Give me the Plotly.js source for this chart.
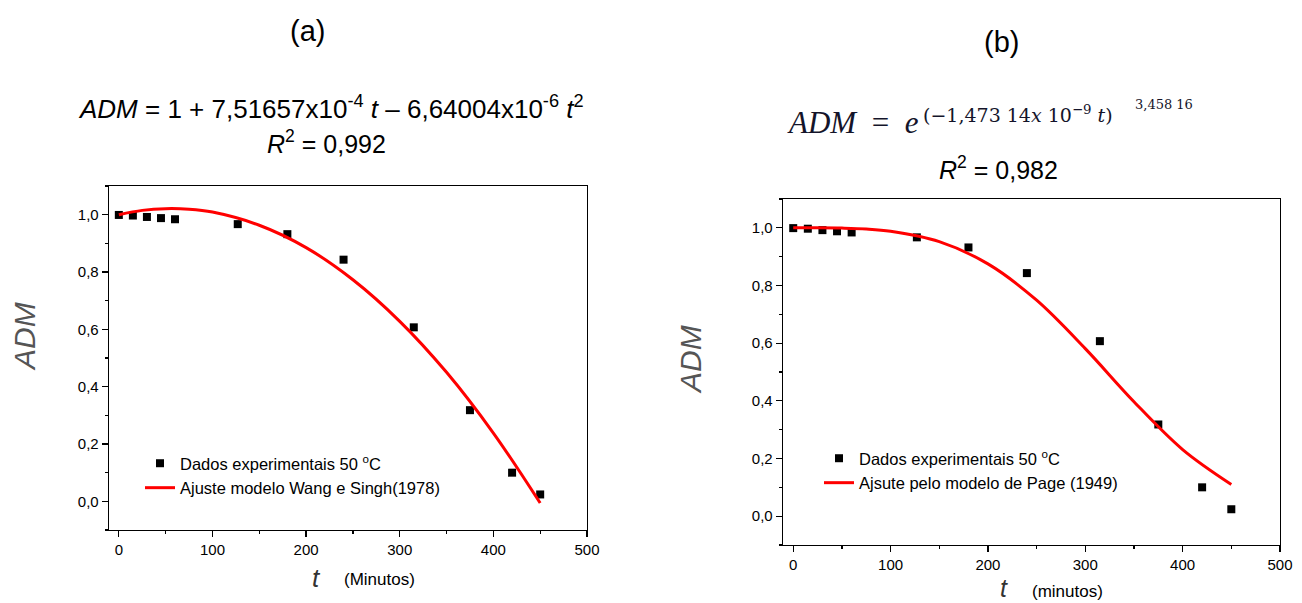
<!DOCTYPE html>
<html>
<head>
<meta charset="utf-8">
<script src="https://cdn.plot.ly/plotly-3.0.1.min.js"></script>
<style>html,body{margin:0;padding:0;background:#fff;}#chart{width:1302px;height:603px;}</style>
</head>
<body>
<div id="chart"></div>
<script>
// ---- data ----
const tData = [0, 15, 30, 45, 60, 127, 180, 240, 315, 375, 420, 450];
const admData = [0.999, 0.997, 0.992, 0.988, 0.984, 0.967, 0.932, 0.843, 0.607, 0.318, 0.100, 0.024];

const tFit = [0, 25, 50, 75, 100, 150, 200, 250, 300, 350, 400, 450];
const admFitWang = [1.000, 1.015, 1.021, 1.019, 1.009, 0.963, 0.885, 0.773, 0.628, 0.450, 0.238, -0.006];
const admFitPage = [1.000, 1.000, 0.999, 0.996, 0.988, 0.952, 0.875, 0.749, 0.581, 0.397, 0.231, 0.110];

const legendData = "Dados experimentais 50 <sup>o</sup>C";
const legendWang = "Ajuste modelo Wang e Singh(1978)";
const legendPage = "Ajsute pelo modelo de Page (1949)";

const yTickVals = [0, 0.2, 0.4, 0.6, 0.8, 1.0];
const xTickVals = [0, 100, 200, 300, 400, 500];

const W = 1302, H = 603;
const px = x => x / W;
const py = y => 1 - y / H;

const traces = [
  {x: tData, y: admData, type: 'scatter', mode: 'markers', name: legendData,
   marker: {symbol: 'square', size: 8, color: '#000'}, xaxis: 'x', yaxis: 'y', legend: 'legend'},
  {x: tFit, y: admFitWang, type: 'scatter', mode: 'lines', name: legendWang,
   line: {color: '#ff0000', width: 3, shape: 'spline', smoothing: 1}, xaxis: 'x', yaxis: 'y', legend: 'legend'},
  {x: tData, y: admData, type: 'scatter', mode: 'markers', name: legendData,
   marker: {symbol: 'square', size: 8, color: '#000'}, xaxis: 'x2', yaxis: 'y2', legend: 'legend2'},
  {x: tFit, y: admFitPage, type: 'scatter', mode: 'lines', name: legendPage,
   line: {color: '#ff0000', width: 3, shape: 'spline', smoothing: 1}, xaxis: 'x2', yaxis: 'y2', legend: 'legend2'}
];

const tickFont = {family: 'Arial, "Liberation Sans", sans-serif', size: 15, color: '#000'};
function xAxis(domain, anchor) {
  return {domain: domain, anchor: anchor, range: [-10.5, 500], tickmode: 'array', tickvals: xTickVals,
    showgrid: false, zeroline: false, showline: true, mirror: true, linecolor: '#000', linewidth: 1.3,
    ticks: 'outside', ticklen: 6, tickwidth: 1.3, tickcolor: '#000', tickfont: tickFont,
    minor: {tickmode: 'linear', tick0: 0, dtick: 50, ticks: 'outside', ticklen: 3, tickwidth: 1.3, tickcolor: '#000', showgrid: false},
    fixedrange: true};
}
function yAxis(domain, anchor) {
  return {domain: domain, anchor: anchor, range: [-0.1, 1.1], tickmode: 'array', tickvals: yTickVals,
    tickformat: '.1f', showgrid: false, zeroline: false, showline: true, mirror: true, linecolor: '#000', linewidth: 1.3,
    ticks: 'outside', ticklen: 6, tickwidth: 1.3, tickcolor: '#000', tickfont: tickFont,
    minor: {tickmode: 'linear', tick0: 0, dtick: 0.1, ticks: 'outside', ticklen: 3, tickwidth: 1.3, tickcolor: '#000', showgrid: false},
    fixedrange: true};
}

const arial = 'Arial, "Liberation Sans", sans-serif';
const serif = '"Liberation Serif", "DejaVu Serif", serif';
const serifWide = '"DejaVu Serif", "Liberation Serif", serif';
function ann(text, x, y, size, opts) {
  return Object.assign({text: text, x: px(x), y: py(y), xref: 'paper', yref: 'paper', showarrow: false,
    xanchor: 'center', yanchor: 'middle', font: {family: arial, size: size, color: '#000'}}, opts || {});
}

const annotations = [
  ann('(a)', 307, 31, 29),
  ann('(b)', 1001, 42, 29),
  ann('<i>ADM</i> = 1 + 7,51657x10<sup>-4</sup> <i>t</i> – 6,64004x10<sup>-6</sup> <i>t</i><sup>2</sup>', 331, 108, 26),
  ann('<i>R</i><sup>2</sup> = 0,992', 326, 142, 25),
  ann('<i>ADM</i>  =  <i>e</i>', 785, 123, 31, {xanchor: 'left', font: {family: serif, size: 31, color: '#14142a'}}),
  ann('(−1,473 14<i>x</i> 10<sup>−9</sup> <i>t</i>)', 921, 114, 19, {xanchor: 'left', font: {family: serifWide, size: 19, color: '#14142a'}}),
  ann('3,458 16', 1133, 104, 13, {xanchor: 'left', font: {family: serifWide, size: 13, color: '#14142a'}}),
  ann('<i>R</i><sup>2</sup> = 0,982', 998, 168, 25),
  ann('<i>ADM</i>', 24, 337, 30, {textangle: -90, font: {family: arial, size: 30, color: '#555'}}),
  ann('<i>ADM</i>', 691, 360, 30, {textangle: -90, font: {family: arial, size: 30, color: '#555'}}),
  ann('<i>t</i>', 316, 578, 26, {font: {family: arial, size: 26, color: '#333'}}),
  ann('(Minutos)', 379, 579, 17),
  ann('<i>t</i>', 1004, 588, 25, {font: {family: arial, size: 25, color: '#333'}}),
  ann('(minutos)', 1067, 591, 17)
];

const legendFont = {family: arial, size: 16.5, color: '#000'};
const layout = {
  width: W, height: H,
  margin: {l: 0, r: 0, t: 0, b: 0},
  paper_bgcolor: '#fff', plot_bgcolor: '#fff',
  separators: ', ',
  showlegend: true,
  xaxis: xAxis([px(109), px(587)], 'y'),
  yaxis: yAxis([1 - 530 / H, 1 - 186 / H], 'x'),
  xaxis2: xAxis([px(783), px(1280)], 'y2'),
  yaxis2: yAxis([1 - 545 / H, 1 - 199 / H], 'x2'),
  legend: {x: px(140), y: py(446), xanchor: 'left', yanchor: 'top', bgcolor: 'rgba(0,0,0,0)',
    font: legendFont, tracegroupgap: 0, itemwidth: 30},
  legend2: {x: px(819), y: py(441), xanchor: 'left', yanchor: 'top', bgcolor: 'rgba(0,0,0,0)',
    font: legendFont, tracegroupgap: 0, itemwidth: 30},
  annotations: annotations
};

Plotly.newPlot('chart', traces, layout, {displayModeBar: false, staticPlot: true});
</script>
</body>
</html>
